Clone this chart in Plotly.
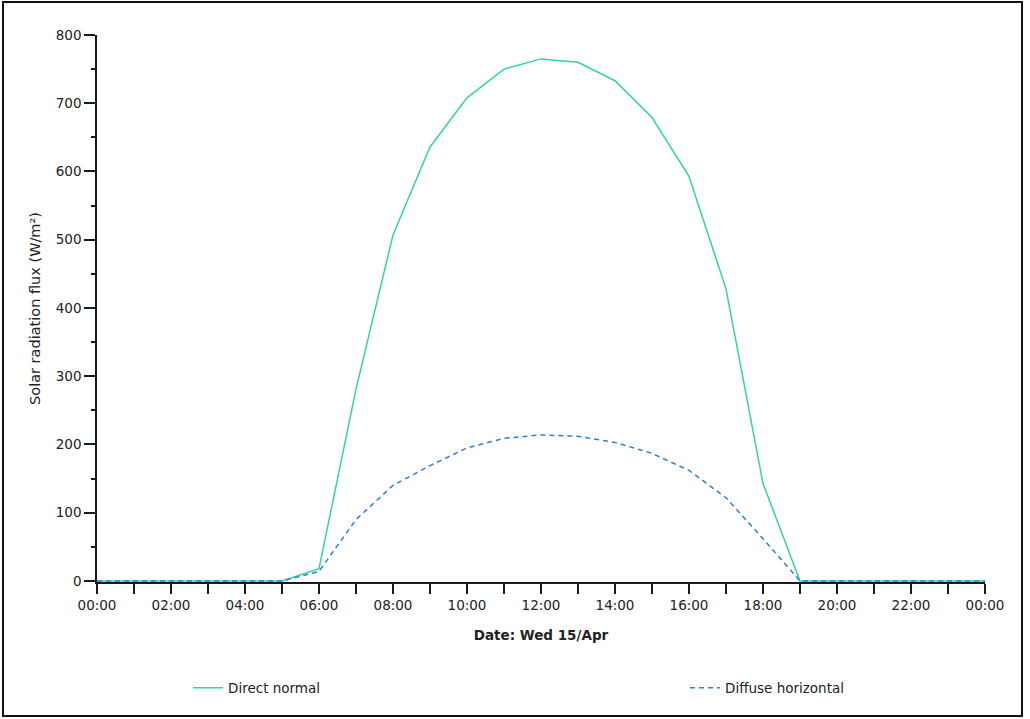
import plotly.graph_objects as go

# Hourly solar radiation for Wed 15 April
hours = list(range(25))
direct_normal = [0, 0, 0, 0, 0, 0, 18, 281, 507, 636, 708, 750, 765, 760, 733,
                 679, 593, 428, 143, 0, 0, 0, 0, 0, 0]
diffuse_horizontal = [0, 0, 0, 0, 0, 0, 14, 90, 140, 169, 195, 209, 214, 212, 203,
                      187, 162, 122, 62, 0, 0, 0, 0, 0, 0]

day = "2020-04-15"
times = [f"{day} {h:02d}:00" for h in hours[:24]] + ["2020-04-16 00:00"]

GREEN = "#2fd6a4"
BLUE = "#2f7fd9"
AXIS = "#1a1a1a"
TICK_FONT = dict(family="DejaVu Sans", size=13.5, color="#222")
LEGEND_FONT = dict(family="DejaVu Sans", size=13.5, color="#222")

fig = go.Figure()

# white backing so the dashed series hides the axis line where it sits on zero
fig.add_trace(go.Scatter(x=times, y=diffuse_horizontal, mode="lines",
                         line=dict(color="white", width=2.5),
                         showlegend=False, hoverinfo="skip"))
fig.add_trace(go.Scatter(x=times, y=direct_normal, mode="lines", name="Direct normal",
                         line=dict(color=GREEN, width=1.5), legend="legend"))
fig.add_trace(go.Scatter(x=times, y=diffuse_horizontal, mode="lines",
                         name="Diffuse horizontal", legend="legend2",
                         line=dict(color=BLUE, width=1.5, dash="5px,4px")))

L, R, T, B = 97, 45, 35, 137
W, H = 1030, 719
pw, ph = W - L - R, H - T - B

def px_x(x):
    return (x - L) / pw

def px_y(y):
    return (H - B - y) / ph

fig.update_layout(
    width=W, height=H,
    margin=dict(l=L, r=R, t=T, b=B, pad=0, autoexpand=False),
    paper_bgcolor="white", plot_bgcolor="white",
    font=dict(family="DejaVu Sans", size=13, color="#222"),
    showlegend=True,
    legend=dict(orientation="h", x=px_x(188), y=px_y(688), xanchor="left",
                yanchor="middle", font=LEGEND_FONT, bgcolor="rgba(0,0,0,0)"),
    legend2=dict(orientation="h", x=px_x(685), y=px_y(688), xanchor="left",
                 yanchor="middle", font=LEGEND_FONT, bgcolor="rgba(0,0,0,0)"),
    xaxis=dict(
        type="date", range=[f"{day} 00:00", "2020-04-16 00:00"],
        dtick=7200000, tickformat="%H:%M", tick0=f"{day} 00:00",
        ticks="outside", ticklen=10, tickwidth=1.5, tickcolor=AXIS,
        showline=True, linecolor=AXIS, linewidth=1.5, showgrid=False,
        zeroline=False, tickfont=TICK_FONT, layer="below traces",
        minor=dict(dtick=3600000, ticks="outside", ticklen=10, tickwidth=1.5,
                   tickcolor=AXIS, showgrid=False),
        title=dict(text="<b>Date: Wed 15/Apr</b>", standoff=19,
                   font=dict(family="DejaVu Sans", size=13.5, color="#222")),
    ),
    yaxis=dict(
        range=[-1.5, 800], dtick=100, tick0=0,
        ticks="outside", ticklen=11, tickwidth=1.5, tickcolor=AXIS,
        showline=True, linecolor=AXIS, linewidth=1.5, showgrid=False,
        zeroline=False, tickfont=TICK_FONT, layer="below traces",
        minor=dict(dtick=50, ticks="outside", ticklen=4, tickwidth=1.5,
                   tickcolor=AXIS, showgrid=False),
        title=dict(text="Solar radiation flux (W/m²)", standoff=12,
                   font=dict(family="DejaVu Sans", size=14.5, color="#222")),
    ),
    shapes=[dict(type="rect", xref="paper", yref="paper",
                 x0=px_x(3), x1=px_x(1022), y0=px_y(716), y1=px_y(2),
                 line=dict(color="#111", width=2), fillcolor="rgba(0,0,0,0)",
                 layer="below")],
)

fig.write_html("out.html")
